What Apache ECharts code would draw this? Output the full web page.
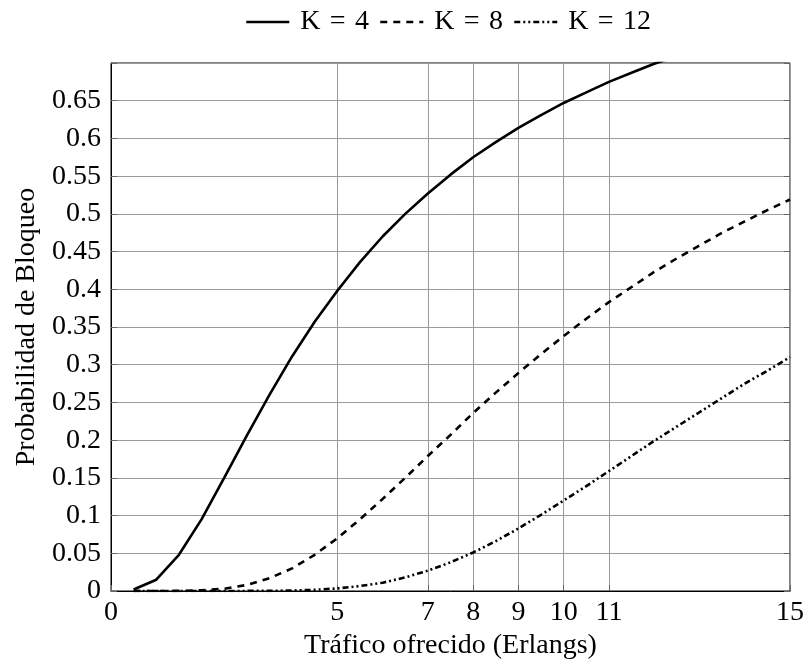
<!DOCTYPE html>
<html>
<head>
<meta charset="utf-8">
<script src="https://cdn.jsdelivr.net/npm/echarts@6/dist/echarts.min.js"></script>
<style>
  html, body { margin: 0; padding: 0; background: #fff; }
  #chart { width: 807px; height: 668px; }
</style>
</head>
<body>
<div id="chart"></div>
<script>
// traffic offered (Erlangs), sampled every 0.5
var traffic = [0.5, 1, 1.5, 2, 2.5, 3, 3.5, 4, 4.5, 5, 5.5, 6, 6.5, 7, 7.5, 8,
  8.5, 9, 9.5, 10, 10.5, 11, 11.5, 12, 12.5, 13, 13.5, 14, 14.5, 15];

// blocking probability
var k4 = [0.002, 0.015, 0.048, 0.095, 0.150, 0.206, 0.260, 0.311, 0.357, 0.398,
  0.436, 0.470, 0.500, 0.527, 0.552, 0.575, 0.595, 0.614, 0.631, 0.647,
  0.661, 0.675, 0.687, 0.699, 0.709, 0.719, 0.729, 0.737, 0.746, 0.753];
var k8 = [0, 0, 0.0001, 0.001, 0.003, 0.008, 0.017, 0.030, 0.048, 0.070,
  0.095, 0.122, 0.150, 0.179, 0.207, 0.236, 0.263, 0.289, 0.314, 0.338,
  0.361, 0.383, 0.403, 0.423, 0.441, 0.458, 0.475, 0.490, 0.505, 0.519];
var k12 = [0, 0, 0, 0, 0, 0.0001, 0.0002, 0.0006, 0.0016, 0.0034,
  0.0066, 0.011, 0.018, 0.027, 0.038, 0.051, 0.066, 0.083, 0.101, 0.120,
  0.139, 0.159, 0.179, 0.199, 0.218, 0.237, 0.256, 0.275, 0.292, 0.310];

var xTicks = [0, 5, 7, 8, 9, 10, 11, 15];
var seriesNames = ['K\u2004=\u20044', 'K\u2004=\u20048', 'K\u2004=\u200412'];

function pairs(ys) {
  return traffic.map(function (x, i) { return [x, ys[i]]; });
}

var font = '"Liberation Serif", serif';
var fs = 28;
var tickStyle = { color: '#666', width: 1 };
var myChart = echarts.init(document.getElementById('chart'));
myChart.setOption({
  animation: false,
  textStyle: { fontFamily: font },
  grid: {
    left: 111, right: 16, top: 63, bottom: 77,
    show: true, borderColor: '#000', borderWidth: 1
  },
  legend: {
    top: 3,
    left: 240,
    itemWidth: 43,
    itemHeight: 14,
    itemGap: 10,
    itemStyle: { opacity: 0 },
    lineStyle: { width: 2.6 },
    textStyle: { fontFamily: font, fontSize: fs, color: '#000', padding: [0, 0, 0, 6] },
    data: seriesNames
  },
  xAxis: {
    type: 'value',
    min: 0, max: 15,
    name: 'Tráfico ofrecido (Erlangs)',
    nameLocation: 'middle',
    nameGap: 35,
    nameTextStyle: { fontFamily: font, fontSize: fs, color: '#000' },
    axisLine: { lineStyle: { color: '#000', width: 1 } },
    axisTick: { inside: true, length: 6, customValues: xTicks, lineStyle: tickStyle },
    axisLabel: { customValues: xTicks, margin: 8, fontFamily: font, fontSize: fs, color: '#000' },
    splitLine: { show: true, lineStyle: { color: '#9a9a9a', width: 1 } }
  },
  yAxis: [{
    type: 'value',
    min: 0, max: 0.7, interval: 0.05,
    name: 'Probabilidad de Bloqueo',
    nameLocation: 'middle',
    nameGap: 69,
    nameTextStyle: { fontFamily: font, fontSize: fs, color: '#000' },
    axisLine: { show: true, lineStyle: { color: '#000', width: 1 } },
    axisTick: { show: true, inside: true, length: 6, lineStyle: tickStyle },
    axisLabel: {
      margin: 10, fontFamily: font, fontSize: fs, color: '#000',
      formatter: function (v) { return v >= 0.699 ? '' : String(+v.toFixed(2)); }
    },
    splitLine: { show: true, lineStyle: { color: '#9a9a9a', width: 1 } }
  }, {
    type: 'value',
    position: 'right',
    min: 0, max: 0.7, interval: 0.05,
    axisLine: { show: false },
    axisTick: { show: true, inside: true, length: 6, lineStyle: tickStyle },
    axisLabel: { show: false },
    splitLine: { show: false }
  }],
  series: [
    {
      name: seriesNames[0], type: 'line', data: pairs(k4),
      symbol: 'none', clip: true,
      lineStyle: { color: '#000', width: 2.6, type: 'solid' },
      itemStyle: { color: '#000' }
    },
    {
      name: seriesNames[1], type: 'line', data: pairs(k8),
      symbol: 'none', clip: true,
      lineStyle: { color: '#000', width: 2.6, type: [7, 6] },
      itemStyle: { color: '#000' }
    },
    {
      name: seriesNames[2], type: 'line', data: pairs(k12),
      symbol: 'none', clip: true,
      lineStyle: { color: '#000', width: 2.6, type: [6, 3, 2, 3, 2, 3] },
      itemStyle: { color: '#000' }
    }
  ]
});
</script>
</body>
</html>
